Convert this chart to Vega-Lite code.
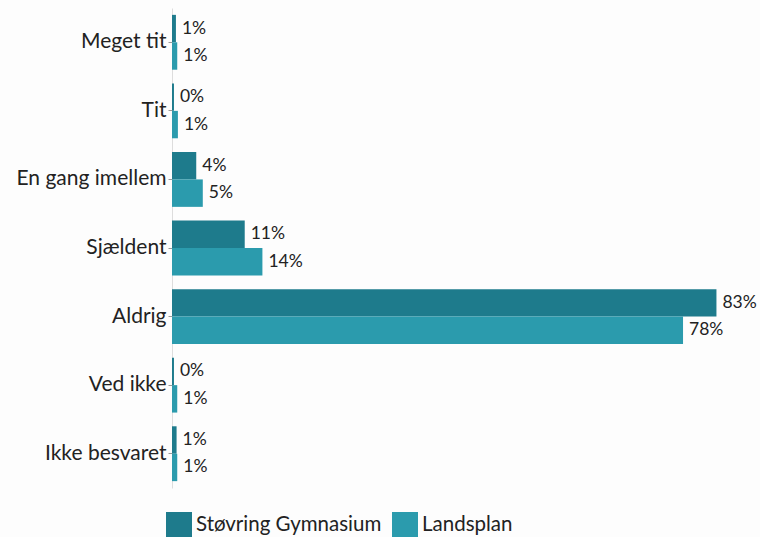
{
  "$schema": "https://vega.github.io/schema/vega-lite/v6.json",
  "autosize": "none",
  "width": 570,
  "height": 480,
  "padding": {"left": 172, "top": 8, "right": 18, "bottom": 49},
  "background": "#fdfdfd",
  "config": {"view": {"stroke": null}, "font": "Lato"},
  "data": {"values": [
    {"cat": "Meget tit", "series": "Støvring Gymnasium", "value": 0.6, "label": "1%"},
    {"cat": "Meget tit", "series": "Landsplan", "value": 0.8, "label": "1%"},
    {"cat": "Tit", "series": "Støvring Gymnasium", "value": 0.3, "label": "0%"},
    {"cat": "Tit", "series": "Landsplan", "value": 0.9, "label": "1%"},
    {"cat": "En gang imellem", "series": "Støvring Gymnasium", "value": 3.7, "label": "4%"},
    {"cat": "En gang imellem", "series": "Landsplan", "value": 4.7, "label": "5%"},
    {"cat": "Sjældent", "series": "Støvring Gymnasium", "value": 11.1, "label": "11%"},
    {"cat": "Sjældent", "series": "Landsplan", "value": 13.8, "label": "14%"},
    {"cat": "Aldrig", "series": "Støvring Gymnasium", "value": 83.1, "label": "83%"},
    {"cat": "Aldrig", "series": "Landsplan", "value": 78.0, "label": "78%"},
    {"cat": "Ved ikke", "series": "Støvring Gymnasium", "value": 0.3, "label": "0%"},
    {"cat": "Ved ikke", "series": "Landsplan", "value": 0.8, "label": "1%"},
    {"cat": "Ikke besvaret", "series": "Støvring Gymnasium", "value": 0.7, "label": "1%"},
    {"cat": "Ikke besvaret", "series": "Landsplan", "value": 0.8, "label": "1%"}
  ]},
  "encoding": {
    "y": {
      "field": "cat", "type": "nominal",
      "sort": ["Meget tit", "Tit", "En gang imellem", "Sjældent", "Aldrig", "Ved ikke", "Ikke besvaret"],
      "scale": {"paddingInner": 0.2, "paddingOuter": 0.1},
      "axis": {"title": null, "labelFontSize": 21, "labelColor": "#222222", "tickColor": "#999999", "tickSize": 4, "domainColor": "#dddddd", "labelPadding": 2, "labelLimit": 200}
    },
    "yOffset": {"field": "series", "type": "nominal", "sort": ["Støvring Gymnasium", "Landsplan"]},
    "x": {
      "field": "value", "type": "quantitative",
      "scale": {"domain": [0, 87], "nice": false},
      "axis": null
    }
  },
  "layer": [
    {
      "mark": {"type": "bar"},
      "encoding": {
        "color": {
          "field": "series", "type": "nominal",
          "sort": ["Støvring Gymnasium", "Landsplan"],
          "scale": {"domain": ["Støvring Gymnasium", "Landsplan"], "range": ["#1e7b8c", "#2b9bad"]},
          "legend": {
            "title": null, "orient": "none", "direction": "horizontal",
            "legendX": -6, "legendY": 504,
            "symbolType": "square", "symbolSize": 676, "symbolStrokeWidth": 0,
            "labelFontSize": 20.5, "labelColor": "#222222", "columnPadding": 10, "labelOffset": 4, "labelLimit": 300
          }
        }
      }
    },
    {
      "mark": {"type": "text", "align": "left", "baseline": "middle", "dx": 6, "fontSize": 17.5, "color": "#222222"},
      "encoding": {"text": {"field": "label"}}
    }
  ]
}
